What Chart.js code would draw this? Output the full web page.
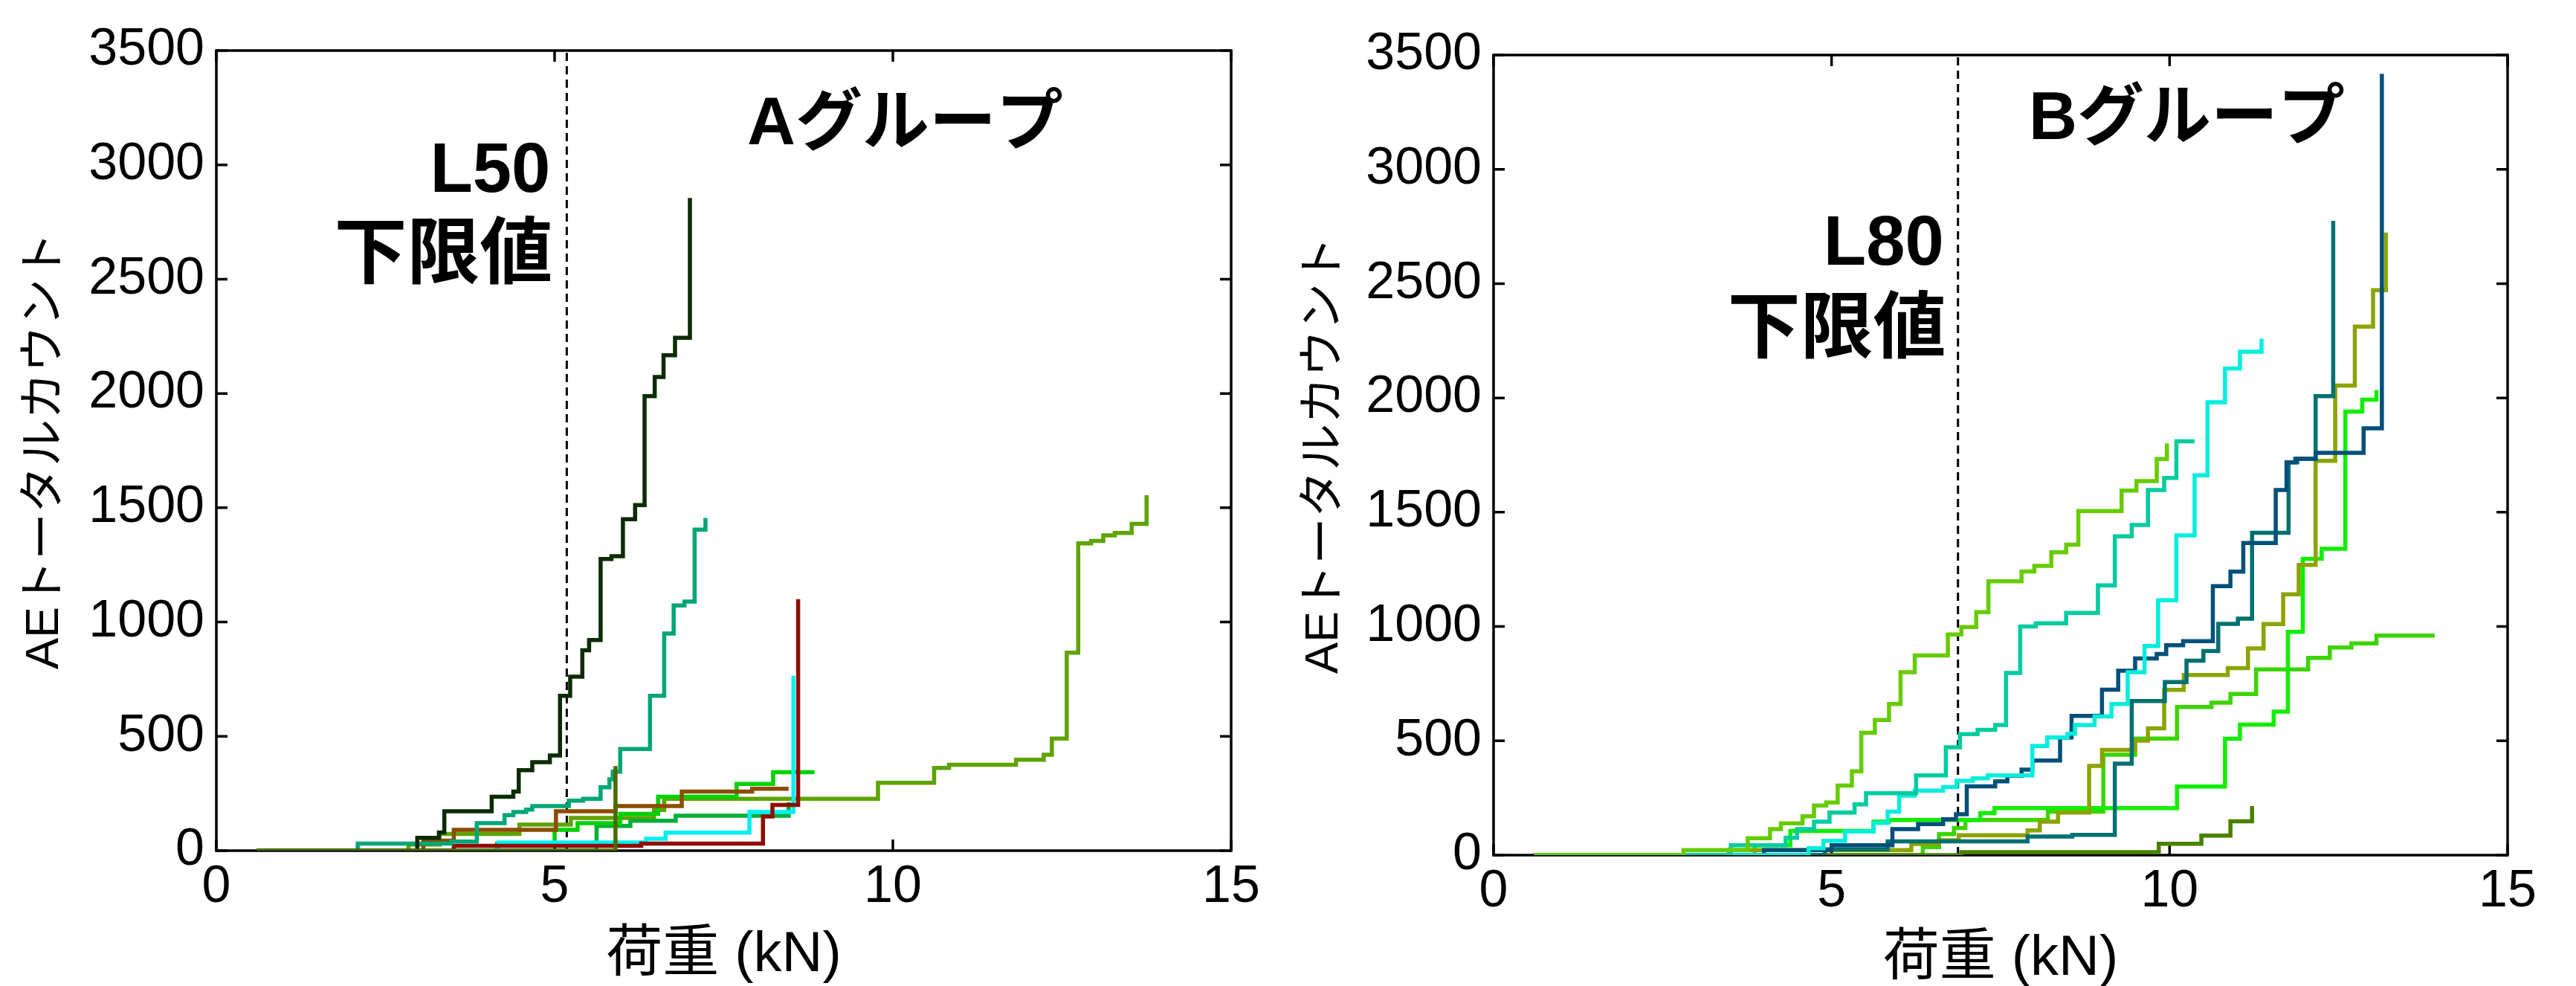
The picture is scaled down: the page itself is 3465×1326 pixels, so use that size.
<!DOCTYPE html>
<html><head><meta charset="utf-8">
<script src="https://cdn.jsdelivr.net/npm/chart.js@4.4.1/dist/chart.umd.min.js"></script>
<style>
html,body{margin:0;padding:0;background:#fff;width:3465px;height:1326px;overflow:hidden}
canvas{position:absolute;top:0}
#cA{left:0}
#cB{left:1732px}
</style></head><body>
<canvas id="cA" width="1732" height="1326"></canvas>
<canvas id="cB" width="1733" height="1326"></canvas>
<script>
// ---- axis ticks & labels ----
const xTicks = [0, 5, 10, 15];
const yTicks = [0, 500, 1000, 1500, 2000, 2500, 3000, 3500];
const xLabel = '荷重 (kN)';
const yLabel = 'AEトータルカウント';
const titleA = 'Aグループ';
const titleB = 'Bグループ';
const limitNameA = 'L50';
const limitNameB = 'L80';
const limitText = '下限値';
const limitA = 5.18;   // kN
const limitB = 6.87;   // kN

// ---- A group (load kN, AE total count) ----
const loadA1 = [0.6, 2.97, 3.29, 3.37, 4.07, 4.39, 4.47, 4.67, 4.93, 5.08, 5.23, 5.41, 5.51, 5.68, 5.84, 6.01, 6.19, 6.33, 6.48, 6.61, 6.78, 7.0];
const countA1 = [0, 56, 80, 172, 236, 259, 352, 387, 416, 677, 761, 877, 921, 1276, 1288, 1450, 1512, 1988, 2072, 2167, 2244, 2855];
const loadA2 = [0.6, 2.09, 3.47, 3.85, 4.26, 4.39, 4.58, 4.67, 5.21, 5.42, 5.68, 5.81, 5.86, 5.97, 6.41, 6.62, 6.76, 6.92, 7.07, 7.23];
const countA2 = [0, 31, 40, 120, 155, 169, 180, 195, 219, 227, 277, 312, 346, 445, 677, 950, 1073, 1090, 1404, 1456];
const loadA3 = [0.6, 3.06, 3.51, 5.02, 5.90, 6.88, 7.92, 8.46];
const countA3 = [0, 44, 91, 172, 195, 259, 271, 271];
const loadA4 = [0.6, 3.51, 6.28, 8.08, 8.22, 8.6];
const countA4 = [0, 21, 31, 150, 200, 1100];
const loadA5 = [0.6, 4.17, 6.35, 6.64, 7.88, 8.53];
const countA5 = [0, 36, 52, 79, 169, 765];
const loadA6 = [0.6, 4.15, 5.0, 5.34, 5.97, 6.53, 7.69, 8.23, 8.84];
const countA6 = [0, 30, 91, 120, 161, 236, 292, 343, 343];
const loadA7 = [0.6, 5.62, 6.12, 6.79, 8.46];
const countA7 = [0, 108, 131, 153, 212];
const loadA8 = [0.6, 2.84, 3.3, 4.48, 5.24, 6.47, 6.62, 9.78, 10.61, 10.83, 11.82, 12.23, 12.35, 12.57, 12.74, 12.93, 13.11, 13.28, 13.53, 13.75];
const countA8 = [0, 27, 73, 114, 143, 178, 227, 297, 362, 376, 398, 420, 490, 866, 1344, 1355, 1379, 1390, 1430, 1555];
const loadA9 = [0.6, 5.9];
const countA9 = [0, 370];
const colorsA = ['#4a6a00', '#0b2c03', '#00a676', '#8c4c00', '#8e0e00', '#00f0f0', '#00d200', '#00b034', '#5ea300'];

// ---- B group ----
const loadB1 = [0.6, 2.81, 3.76, 4.09, 4.25, 4.57, 4.74, 4.92, 5.09, 5.30, 5.44, 5.64, 5.85, 6.02, 6.23, 6.72, 6.92, 7.14, 7.32, 7.81, 8.0, 8.25, 8.47, 8.65, 9.29, 9.51, 9.81, 9.96];
const countB1 = [0, 22, 74, 114, 139, 170, 217, 230, 304, 367, 535, 591, 661, 800, 873, 965, 998, 1063, 1198, 1241, 1265, 1325, 1358, 1505, 1595, 1636, 1733, 1801];
const loadB2 = [0.6, 3.51, 4.32, 4.49, 4.74, 4.97, 5.34, 5.51, 6.25, 6.69, 6.9, 7.16, 7.42, 7.58, 7.79, 8.02, 8.47, 8.94, 9.19, 9.44, 9.68, 9.92, 10.1, 10.37];
const countB2 = [0, 43, 76, 114, 146, 186, 222, 271, 349, 472, 529, 548, 569, 797, 1000, 1014, 1060, 1180, 1395, 1444, 1597, 1650, 1810, 1810];
const loadB3 = [0.6, 4.66, 4.88, 5.20, 5.62, 5.83, 6.0, 6.23, 6.65, 6.85, 7.09, 7.31, 7.97, 8.19, 8.49, 8.6, 8.89, 9.14, 9.38, 9.63, 9.83, 10.1, 10.37, 10.56, 10.82, 11.04, 11.36];
const countB3 = [0, 30, 63, 103, 141, 190, 260, 282, 298, 325, 336, 349, 477, 515, 531, 569, 607, 661, 800, 915, 1115, 1399, 1661, 1981, 2129, 2202, 2259];
const loadB4 = [0.6, 4.0, 5.0, 5.9, 6.28, 6.65, 6.84, 7.0, 7.42, 7.6, 7.81, 7.97, 8.38, 8.55, 9.0, 9.24, 9.49, 9.81, 9.95, 10.2, 10.64, 10.9, 11.09, 11.57, 11.73, 11.86, 12.16, 12.87, 13.14];
const countB4 = [0, 22, 43, 114, 136, 157, 179, 301, 323, 347, 374, 414, 515, 609, 724, 807, 860, 880, 918, 936, 1177, 1240, 1365, 1597, 1718, 1734, 1760, 1867, 3418];
const loadB5 = [0.6, 4.9, 5.83, 7.9, 8.56, 9.19, 9.44, 9.93, 10.25, 10.5, 10.72, 11.01, 11.22, 11.76, 11.89, 12.16, 12.42];
const countB5 = [0, 25, 60, 81, 89, 400, 674, 757, 851, 893, 1012, 1034, 1410, 1718, 1734, 2008, 2775];
const loadB6 = [0.6, 3.48, 6.18, 6.59, 6.88, 7.9, 8.08, 8.35, 8.81, 9.0, 9.49, 9.68, 9.92, 10.21, 10.86, 11.16, 11.39, 11.68, 11.91, 12.16, 12.45, 12.74, 13.01, 13.2];
const countB6 = [0, 22, 49, 65, 87, 108, 146, 186, 390, 460, 501, 555, 723, 788, 818, 904, 1011, 1141, 1269, 1725, 2054, 2312, 2471, 2723];
const loadB7 = [0.6, 3.86, 4.39, 5.62, 5.85, 7.2, 7.41, 10.11, 10.82, 11.04, 11.54, 11.75, 11.97, 12.25, 12.6, 12.85, 13.06];
const countB7 = [0, 43, 106, 146, 154, 184, 206, 300, 509, 571, 628, 977, 1296, 1340, 1940, 1992, 2035];
const loadB8 = [0.6, 6.35, 6.59, 6.81, 6.98, 8.2, 9.02, 9.49, 10.11, 10.62, 10.9, 11.28, 12.05, 12.37, 12.69, 13.06, 13.92];
const countB8 = [0, 35, 92, 119, 154, 190, 439, 510, 648, 667, 705, 812, 863, 908, 926, 960, 960];
const loadB9 = [0.6, 6.92, 9.84, 10.47, 10.9, 11.22];
const countB9 = [0, 13, 50, 85, 148, 215];
const colorsB = ['#66cc00', '#00cca0', '#00eedd', '#00507a', '#007070', '#8ca300', '#10ee00', '#4a8000', '#3cd400'];

const seriesA = [[loadA9, countA9], [loadA1, countA1], [loadA2, countA2], [loadA3, countA3], [loadA4, countA4], [loadA5, countA5], [loadA6, countA6], [loadA7, countA7], [loadA8, countA8]];
const seriesB = [[loadB1, countB1], [loadB2, countB2], [loadB3, countB3], [loadB4, countB4], [loadB5, countB5], [loadB6, countB6], [loadB7, countB7], [loadB9, countB9], [loadB8, countB8]];

const fontStack = '"Liberation Sans", "Noto Sans CJK JP", sans-serif';

function pts(load, count) { return load.map((v, i) => ({x: v, y: count[i]})); }

const framePlugin = {
  id: 'frame',
  beforeDatasetsDraw(chart) {
    const {ctx, chartArea: a, scales: {x, y}} = chart;
    ctx.save();
    ctx.strokeStyle = '#000';
    ctx.lineWidth = 3.5;
    ctx.strokeRect(a.left, a.top, a.right - a.left, a.bottom - a.top);
    const L = 15;
    ctx.beginPath();
    for (const v of xTicks) {
      const px = x.getPixelForValue(v);
      ctx.moveTo(px, a.bottom); ctx.lineTo(px, a.bottom - L);
      ctx.moveTo(px, a.top); ctx.lineTo(px, a.top + L);
    }
    for (const v of yTicks) {
      const py = y.getPixelForValue(v);
      ctx.moveTo(a.left, py); ctx.lineTo(a.left + L, py);
      ctx.moveTo(a.right, py); ctx.lineTo(a.right - L, py);
    }
    ctx.stroke();
    ctx.restore();
  }
};

const notesPlugin = {
  id: 'notes',
  afterDatasetsDraw(chart, args, o) {
    const ctx = chart.ctx;
    const lx = chart.scales.x.getPixelForValue(o.limit) - o.gap;
    ctx.save();
    ctx.fillStyle = '#000';
    ctx.textBaseline = 'alphabetic';
    ctx.textAlign = 'left';
    ctx.font = 'bold 90px ' + fontStack;
    ctx.fillText(o.title, o.titleX, o.titleY);
    ctx.textAlign = 'right';
    ctx.font = 'bold 94px "Liberation Sans", sans-serif';
    ctx.fillText(o.lname, lx, o.lY);
    ctx.font = 'bold 98px "Noto Sans CJK JP", sans-serif';
    ctx.fillText(limitText, lx + 3, o.kY);
    ctx.restore();
  }
};

function makeChart(id, series, colors, limit, lay, notes) {
  const datasets = series.map((s, i) => ({
    data: pts(s[0], s[1]), borderColor: colors[i], borderWidth: 5.5, stepped: true,
    pointRadius: 0, fill: false, borderJoinStyle: 'miter', borderCapStyle: 'butt'
  }));
  datasets.push({
    data: [{x: limit, y: 0}, {x: limit, y: 3500}], borderColor: '#000', borderWidth: 3,
    borderDash: [11, 7], pointRadius: 0, fill: false
  });
  return new Chart(document.getElementById(id), {
    type: 'line',
    data: {datasets},
    options: {
      responsive: false, animation: false, devicePixelRatio: 1,
      layout: {padding: {left: 0, top: lay.padTop, right: lay.padRight, bottom: 0}},
      plugins: {legend: {display: false}, tooltip: {enabled: false}, notes: Object.assign({limit}, notes)},
      scales: {
        x: {
          type: 'linear', min: 0, max: 15,
          afterFit: (s) => { s.height = lay.xH; },
          grid: {display: false, drawTicks: false}, border: {display: false},
          ticks: {stepSize: 5, autoSkip: false, maxRotation: 0, color: '#000', padding: 8,
                  callback: (v) => String(v),
                  font: {family: fontStack, size: 70}},
          title: {display: true, text: xLabel, color: '#000', font: {family: fontStack, size: 76, lineHeight: 1.0},
                  padding: {top: 0, bottom: lay.xTitlePad}}
        },
        y: {
          type: 'linear', min: 0, max: 3500,
          afterFit: (s) => { s.width = lay.yW; },
          grid: {display: false, drawTicks: false}, border: {display: false},
          ticks: {stepSize: 500, autoSkip: false, color: '#000', padding: 16,
                  callback: (v) => String(v),
                  font: {family: fontStack, size: 70}},
          title: {display: true, text: yLabel, color: '#000', font: {family: fontStack, size: 63},
                  padding: {top: lay.yTitlePad, bottom: 0}}
        }
      }
    },
    plugins: [framePlugin, notesPlugin]
  });
}

makeChart('cA', seriesA, colorsA, limitA,
  {yW: 291, xH: 182, padTop: 68, padRight: 76, yTitlePad: 23, xTitlePad: 3},
  {title: titleA, titleX: 1005, titleY: 194, lname: limitNameA, lY: 258, kY: 373, gap: 22});
makeChart('cB', seriesB, colorsB, limitB,
  {yW: 277, xH: 176, padTop: 74, padRight: 92, yTitlePad: 12, xTitlePad: -2},
  {title: titleB, titleX: 997, titleY: 187, lname: limitNameB, lY: 356, kY: 473, gap: 19});
</script></body></html>
